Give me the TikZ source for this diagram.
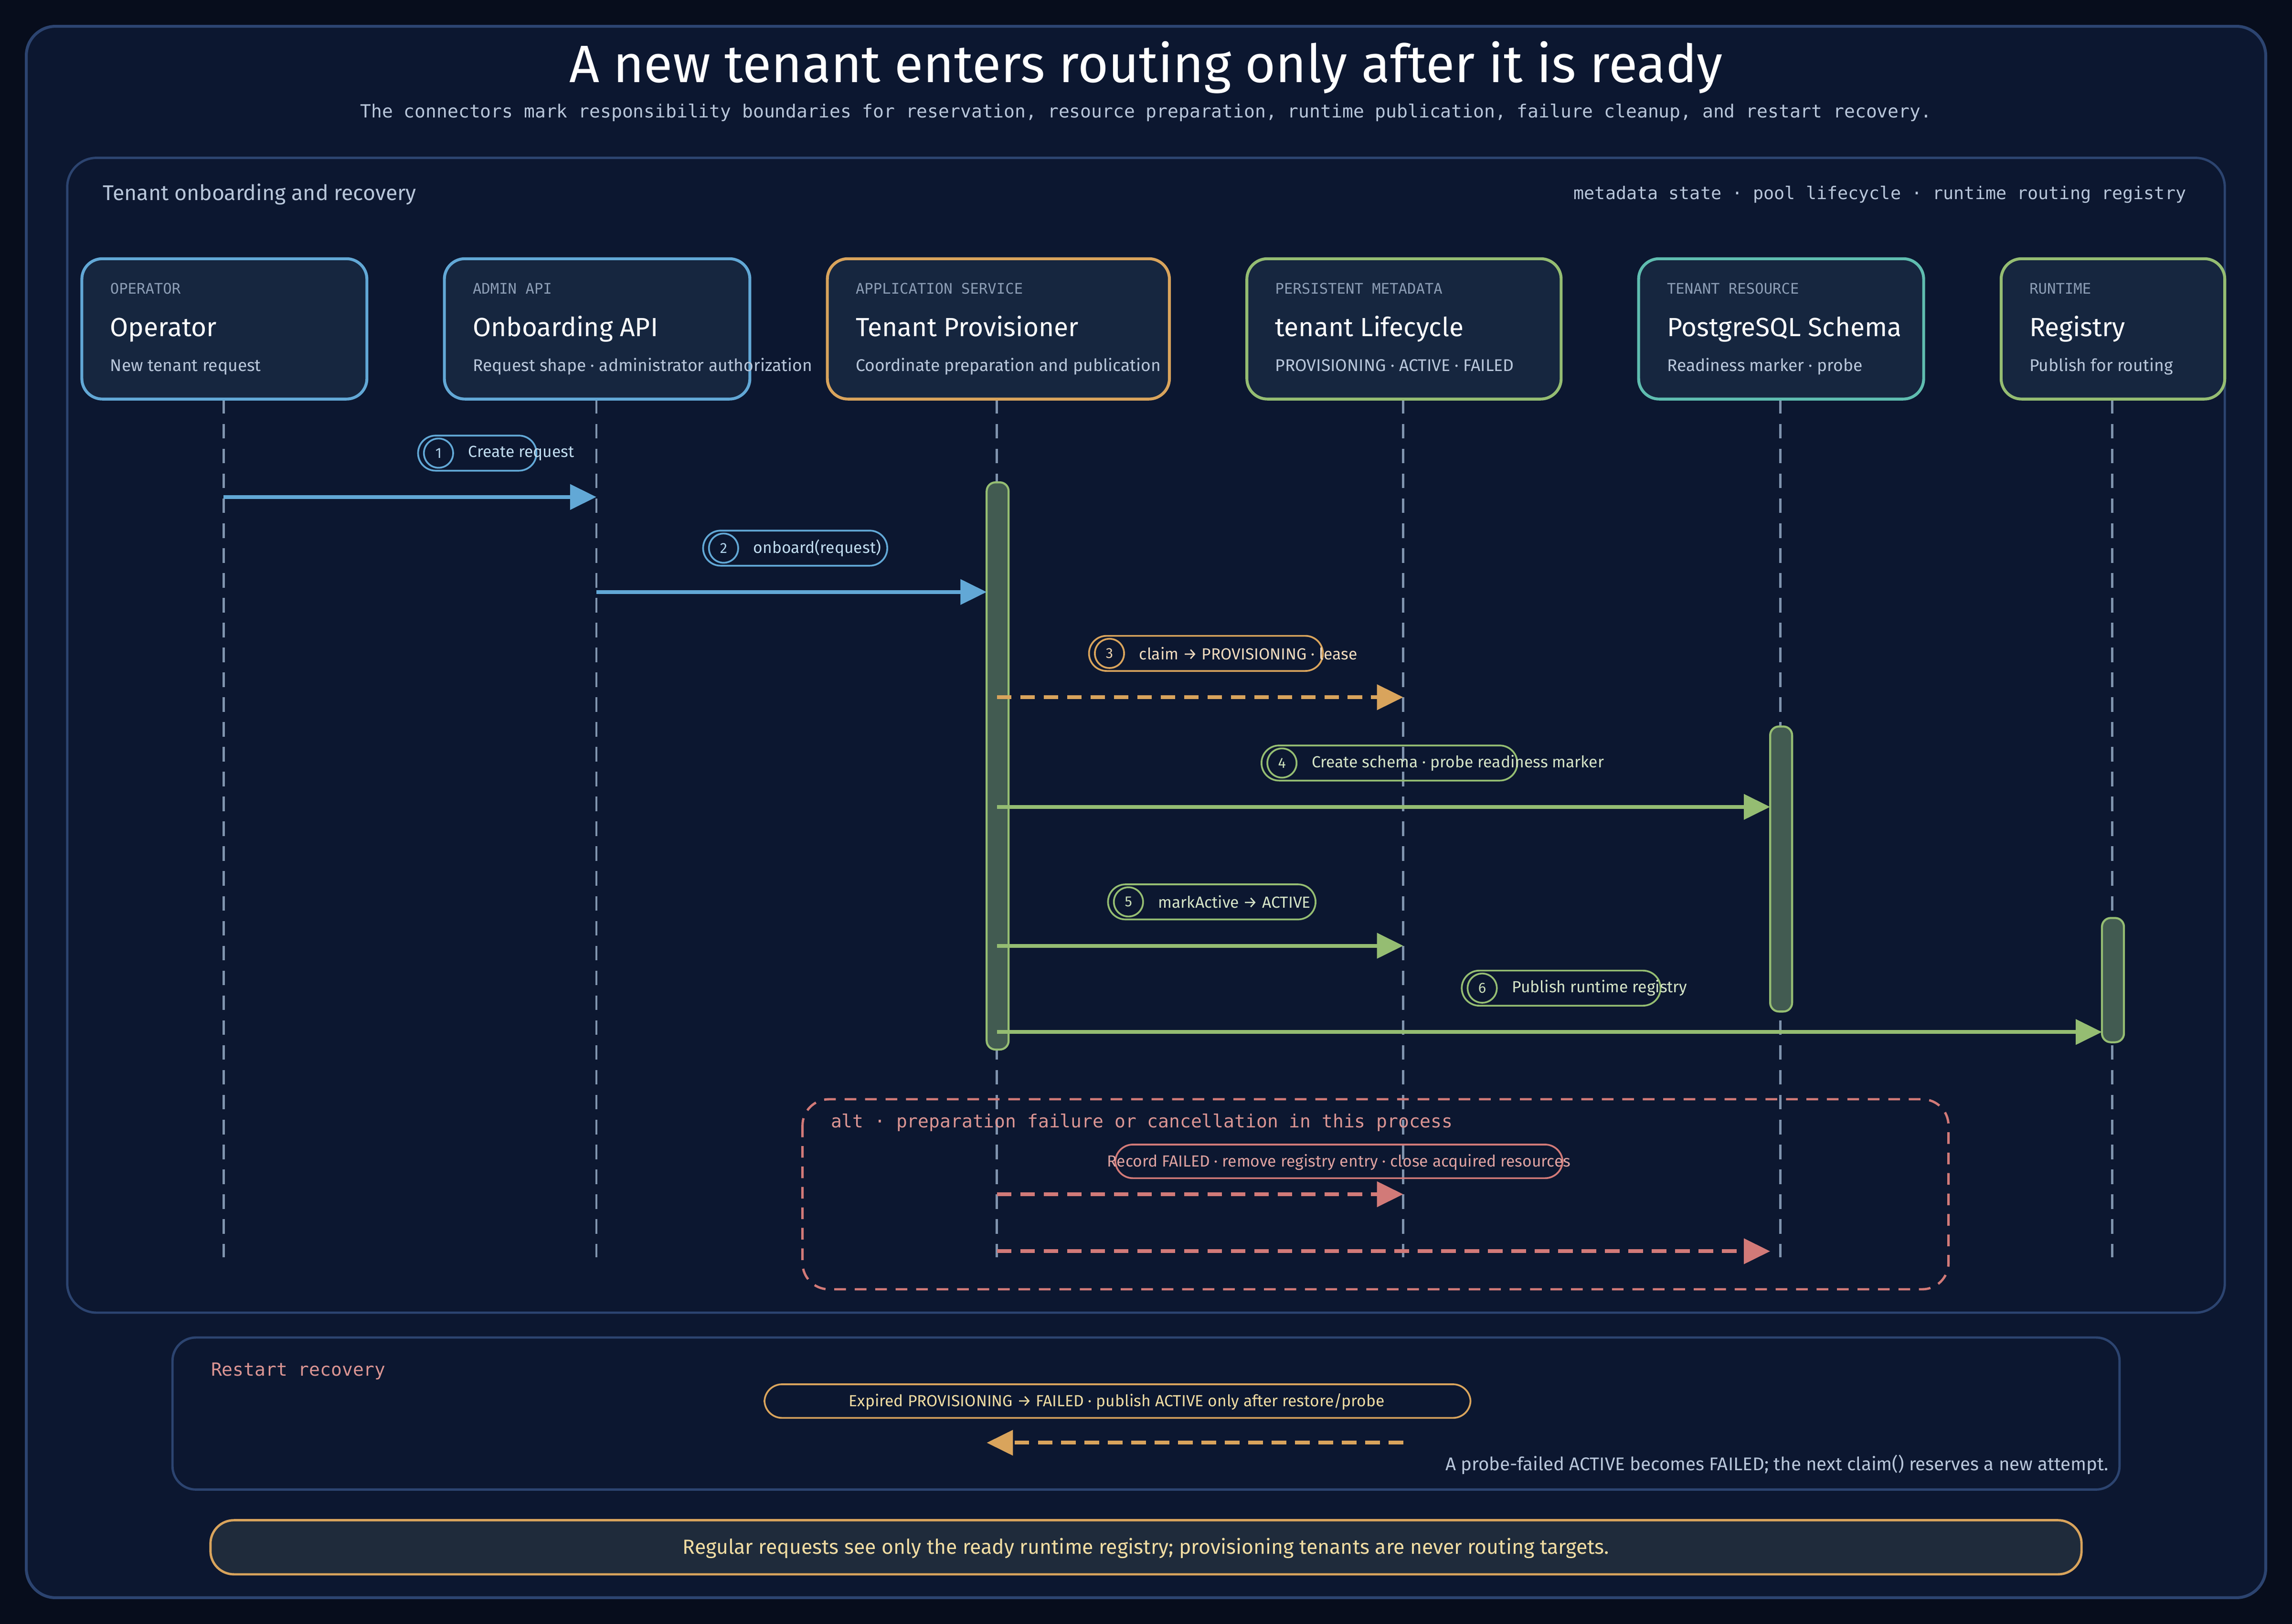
\documentclass[tikz,border=0pt]{standalone}
\usepackage{fontspec}
\setmainfont{Fira Sans}
\setmonofont{DejaVu Sans Mono}
\usetikzlibrary{arrows.meta}
\definecolor{bgdark}{HTML}{070D1C}
\definecolor{bgframe}{HTML}{0C1730}
\definecolor{boxfill}{HTML}{16263F}
\definecolor{edgeline}{HTML}{2C4470}
\definecolor{cblue}{HTML}{62A8D6}
\definecolor{corange}{HTML}{D9A45C}
\definecolor{cgreen}{HTML}{95BD72}
\definecolor{cteal}{HTML}{5FBDB0}
\definecolor{cred}{HTML}{D27A78}
\definecolor{lifegray}{HTML}{7F93AD}
\definecolor{txtsoft}{HTML}{B8C6DA}
\definecolor{txtmono}{HTML}{8C9DB5}
\definecolor{banner}{HTML}{1F2B3B}
\definecolor{cyellow}{HTML}{F0DCA2}

\begin{document}
\begin{tikzpicture}[x=0.5pt,y=-0.5pt,
  actor/.style={draw=#1,line width=1pt,fill=boxfill,rounded corners=7pt},
  kind/.style={anchor=base west,inner sep=0pt,font=\ttfamily\fontsize{5}{6}\selectfont,text=txtmono},
  title/.style={anchor=base west,inner sep=0pt,font=\fontsize{9}{11}\selectfont,text=white},
  desc/.style={anchor=base west,inner sep=0pt,font=\fontsize{5.8}{7}\selectfont,text=txtsoft},
  life/.style={draw=lifegray,line width=0.8pt,dash pattern=on 5pt off 3.5pt},
  bar/.style={draw=cgreen,fill=cgreen!35!boxfill,line width=0.7pt,rounded corners=3pt},
  msg/.style={draw=#1,line width=1.3pt,-{Triangle[length=9pt,width=8.5pt]}},
  rmsg/.style={msg=#1,dash pattern=on 5pt off 3pt},
  pill/.style={draw=#1,line width=0.6pt,rounded corners=6pt},
  num/.style={circle,draw=#1,line width=0.6pt,inner sep=0pt,minimum size=10pt,font=\fontsize{5}{6}\selectfont,text=#1!50!white},
  plabel/.style={anchor=west,inner sep=0pt,font=\fontsize{5.5}{6.5}\selectfont,text=#1!40!white}]
  \useasboundingbox (0,0) rectangle (1568,1111);
  \fill[bgdark] (0,0) rectangle (1568,1111);
  \draw[edgeline,fill=bgframe,line width=1pt,rounded corners=10pt] (18,18) rectangle (1550,1093);

  % heading
  \node[font=\fontsize{18}{20}\selectfont,text=white] (head) at (784,46) {A new tenant enters routing only after it is ready};
  \node[font=\ttfamily\fontsize{6.2}{7}\selectfont,text=txtsoft] (sub) at (784,77) {The connectors mark responsibility boundaries for reservation, resource preparation, runtime publication, failure cleanup, and restart recovery.};

  % main panel
  \draw[edgeline,line width=0.8pt,rounded corners=10pt] (46,108) rectangle (1522,898);
  \node[anchor=west,inner sep=0pt,font=\fontsize{7.3}{8}\selectfont,text=txtsoft] (ptitle) at (70,133) {Tenant onboarding and recovery};
  \node[anchor=east,inner sep=0pt,font=\ttfamily\fontsize{6}{7}\selectfont,text=txtsoft] (plegend) at (1496,133) {metadata state · pool lifecycle · runtime routing registry};

  % participants
  \foreach \nm/\xa/\xb/\xl/\col/\kd/\ttl/\ds in {
      op/56/251/153/cblue/OPERATOR/Operator/New tenant request,
      api/304/513/408/cblue/ADMIN API/Onboarding API/Request shape · administrator authorization,
      prov/566/800/682/corange/APPLICATION SERVICE/Tenant Provisioner/Coordinate preparation and publication,
      meta/853/1068/960/cgreen/PERSISTENT METADATA/tenant Lifecycle/PROVISIONING · ACTIVE · FAILED,
      res/1121/1316/1218/cteal/TENANT RESOURCE/PostgreSQL Schema/Readiness marker · probe,
      reg/1369/1522/1445/cgreen/RUNTIME/Registry/Publish for routing}
  {
    \draw[life] (\xl,273) -- (\xl,860);
    \draw[actor=\col] (\xa,177) rectangle (\xb,273);
    \node[kind] (\nm k) at (\xa+19,201) {\kd};
    \node[title] (\nm t) at (\xa+19,230) {\ttl};
    \node[desc] (\nm d) at (\xa+19,254) {\ds};
  }

  % activations
  \draw[bar] (675,330) rectangle (690,718);
  \draw[bar] (1211,497) rectangle (1226,692);
  \draw[bar] (1438,628) rectangle (1453,713);

  % message end points
  \coordinate (a1) at (153,340);  \coordinate (b1) at (408,340);
  \coordinate (a2) at (408,405);  \coordinate (b2) at (675,405);
  \coordinate (a3) at (682,477);  \coordinate (b3) at (960,477);
  \coordinate (a4) at (682,552);  \coordinate (b4) at (1211,552);
  \coordinate (a5) at (682,647);  \coordinate (b5) at (960,647);
  \coordinate (a6) at (682,706);  \coordinate (b6) at (1438,706);
  \draw[msg=cblue] (a1) -- (b1);
  \draw[msg=cblue] (a2) -- (b2);
  \draw[rmsg=corange] (a3) -- (b3);
  \draw[msg=cgreen] (a4) -- (b4);
  \draw[msg=cgreen] (a5) -- (b5);
  \draw[msg=cgreen] (a6) -- (b6);

  % message labels
  \foreach \i/\pa/\pb/\y/\col/\txt in {
      1/286/367/310/cblue/Create request,
      2/481/607/375/cblue/onboard(request),
      3/745/905/447/corange/claim → PROVISIONING · lease,
      4/863/1038/522/cgreen/Create schema · probe readiness marker,
      5/758/900/617/cgreen/markActive → ACTIVE,
      6/1000/1136/676/cgreen/Publish runtime registry}
  {
    \draw[pill=\col] (\pa,\y-12) rectangle (\pb,\y+12);
    \node[num=\col] (n\i) at (\pa+14,\y) {\i};
    \node[plabel=\col] (l\i) at (\pa+34,\y) {\txt};
  }

  % alt fragment
  \draw[cred,line width=0.8pt,dash pattern=on 4pt off 3pt,rounded corners=9pt] (549,752) rectangle (1333,882);
  \node[anchor=west,inner sep=0pt,font=\ttfamily\fontsize{6.2}{7}\selectfont,text=cred!80!white] (alt) at (568,768) {alt · preparation failure or cancellation in this process};
  \draw[pill=cred] (763,783) rectangle (1069,806);
  \node[font=\fontsize{5.5}{6.5}\selectfont,text=cred!70!white] (failtxt) at (916,795) {Record FAILED · remove registry entry · close acquired resources};
  \coordinate (a7) at (682,817);  \coordinate (b7) at (960,817);
  \coordinate (a8) at (682,856);  \coordinate (b8) at (1211,856);
  \draw[rmsg=cred] (a7) -- (b7);
  \draw[rmsg=cred] (a8) -- (b8);

  % restart recovery
  \draw[edgeline,line width=0.8pt,rounded corners=8pt] (118,915) rectangle (1450,1019);
  \node[anchor=west,inner sep=0pt,font=\ttfamily\fontsize{6.2}{7}\selectfont,text=cred!80!white] (rst) at (144,938) {Restart recovery};
  \draw[pill=corange] (523,947) rectangle (1006,970);
  \node[font=\fontsize{5.5}{6.5}\selectfont,text=cyellow] (exptxt) at (764,959) {Expired PROVISIONING → FAILED · publish ACTIVE only after restore/probe};
  \coordinate (a9) at (960,987);  \coordinate (b9) at (675,987);
  \draw[rmsg=corange] (a9) -- (b9);
  \node[anchor=east,inner sep=0pt,font=\fontsize{6.3}{7}\selectfont,text=txtsoft] (probe) at (1443,1002) {A probe-failed ACTIVE becomes FAILED; the next claim() reserves a new attempt.};

  % banner
  \draw[corange,fill=banner,line width=0.8pt,rounded corners=8pt] (144,1040) rectangle (1424,1077);
  \node[font=\fontsize{7}{8}\selectfont,text=cyellow] (note) at (784,1059) {Regular requests see only the ready runtime registry; provisioning tenants are never routing targets.};
\end{tikzpicture}
\end{document}
